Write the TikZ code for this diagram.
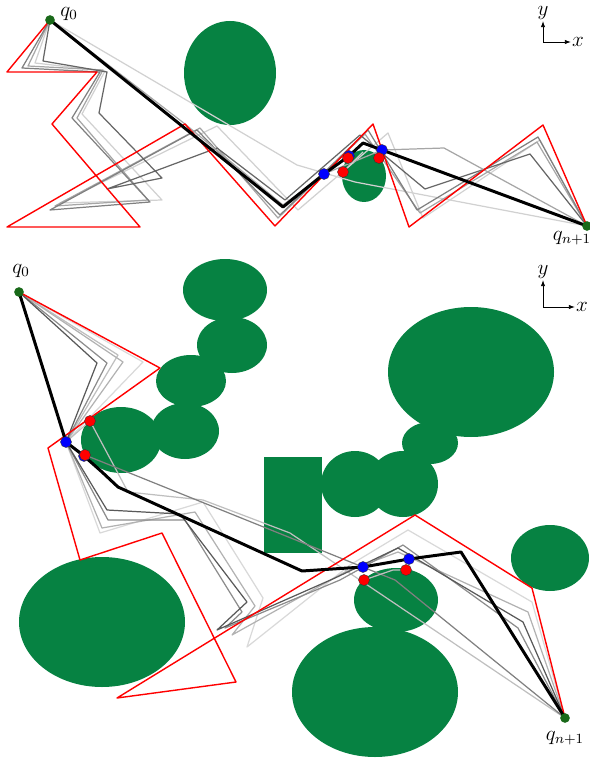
\documentclass[tikz,border=0pt]{standalone}
\usepackage{amsmath,amssymb}
\usepackage{tikz}
\usetikzlibrary{arrows.meta}
\definecolor{obst}{RGB}{6,130,66}
\definecolor{qgreen}{RGB}{25,105,25}

\begin{document}
\begin{tikzpicture}[x=0.02cm,y=-0.02cm,
  obstacle/.style={fill=obst},
  trial/.style={line width=0.7pt,line join=round},
  init/.style={line width=0.8pt,red,line join=round},
  best/.style={line width=1.7pt,black,line join=round},
  inpt/.style={circle,fill=blue,draw=black!80,line width=0.2pt,inner sep=0pt,minimum size=6.3pt},
  outpt/.style={circle,fill=red,draw=black!80,line width=0.2pt,inner sep=0pt,minimum size=6.3pt},
  endpt/.style={circle,fill=qgreen,inner sep=0pt,minimum size=5.5pt},
  lab/.style={font=\large},
  axis/.style={-{Latex[length=3.5pt,width=2.5pt]},line width=0.5pt}]
\useasboundingbox (0,0) rectangle (589,760);

% upper plot
\fill[obstacle] (230,73) ellipse [x radius=46,y radius=52];
\fill[obstacle] (364,176) ellipse [x radius=22,y radius=26];
\coordinate (s1) at (50,20); \coordinate (g1) at (587,226);
\coordinate (tb1) at (324,174); \coordinate (tb2) at (349,156); \coordinate (tb3) at (382,150);
\coordinate (tr1) at (343,172); \coordinate (tr2) at (348,158); \coordinate (tr3) at (379,158);
\draw[trial,black!18] (s1)--(297,165)--(355,182)--(g1);
\draw[trial,black!18] (s1)--(35,63)--(105,71)--(82,114)--(162,200)--(60,203)--(217,126)--(298,210)--(388,133)--(423,218)--(540,140)--(g1);
\draw[trial,black!35] (s1)--(28,66)--(103,70)--(77,118)--(148,200)--(55,206)--(200,128)--(278,218)--(365,134)--(420,213)--(537,142)--(g1);
\draw[trial,black!50] (s1)--(22,68)--(100,72)--(72,118)--(150,202)--(50,210)--(197,130)--(280,215)--(368,130)--(417,210)--(538,137)--(g1);
\draw[trial,black!60] (s1)--(43,61)--(107,72)--(99,113)--(162,178)--(107,189)--(217,148)--(285,200)--(360,135)--(425,189)--(530,154)--(g1);
\draw[trial,black!35] (s1)--(185,124)--(283,205)--(tb1)--(tb3)--(444,148)--(g1);
\draw[trial,black!20] (tr1)--(363,152);
\draw[init] (s1)--(7,72)--(97,72)--(52,124)--(140,227)--(7,227)--(185,124)--(275,226)--(373,124)--(409,227)--(543,125)--(g1);
\draw[best] (s1)--(283,207)--(tb1)--(tb2)--(363,143)--(tb3)--(g1);
\foreach \p in {tb1,tb2,tb3} \node[inpt] at (\p) {};
\foreach \p in {tr1,tr2,tr3} \node[outpt] at (\p) {};
\node[endpt] (q1) at (s1) {}; \node[endpt] (e1) at (g1) {};
\node[lab] (q1lab) at (69,14) {$q_0$};
\node[lab] (e1lab) at (572,238) {$q_{n+1}$};
\coordinate (o1) at (543,42);
\draw[axis] (o1)--(543,21) node[lab,above=-3pt] (y1) {$y$};
\draw[axis] (o1)--(571,42) node[lab,right=-3pt] (x1) {$x$};

% lower plot
\fill[obstacle] (225,290) ellipse [x radius=42,y radius=31];
\fill[obstacle] (232,345) ellipse [x radius=35,y radius=28];
\fill[obstacle] (191,381) ellipse [x radius=35,y radius=26];
\fill[obstacle] (185,431) ellipse [x radius=34,y radius=28];
\fill[obstacle] (121,440) ellipse [x radius=40,y radius=33];
\fill[obstacle] (264,457) rectangle (322,553);
\fill[obstacle] (355,484) ellipse [x radius=34,y radius=33];
\fill[obstacle] (403,484) ellipse [x radius=35,y radius=33];
\fill[obstacle] (430,443) ellipse [x radius=28,y radius=21];
\fill[obstacle] (471,372) ellipse [x radius=83,y radius=65];
\fill[obstacle] (550,558) ellipse [x radius=39,y radius=33];
\fill[obstacle] (396,600) ellipse [x radius=42,y radius=32];
\fill[obstacle] (375,692) ellipse [x radius=83,y radius=65];
\fill[obstacle] (102,622) ellipse [x radius=83,y radius=65];
\coordinate (s2) at (19,292); \coordinate (g2) at (565,718);
\coordinate (bb1) at (66,442); \coordinate (bb2) at (84,456); \coordinate (bb3) at (363,567); \coordinate (bb4) at (409,559);
\coordinate (br1) at (90,421); \coordinate (br2) at (85,455); \coordinate (br3) at (364,580); \coordinate (br4) at (406,570);
\draw[trial,black!15] (s2)--(143,362)--(bb1)--(100,533)--(203,502)--(263,598)--(247,647)--(350,565)--(408,530)--(532,602)--(g2);
\draw[trial,black!25] (s2)--(118,355)--(bb1)--(br1)--(128,492)--(203,500)--(290,533)--(g2);
\draw[trial,black!30] (s2)--(123,362)--(bb1)--(102,528)--(195,512)--(255,606)--(232,635)--(345,572)--(398,552)--(528,612)--(g2);
\draw[trial,black!45] (s2)--(107,363)--(bb1)--(108,520)--(185,520)--(242,612)--(225,628)--(340,580)--(403,545)--(518,628)--(g2);
\draw[trial,black!65] (s2)--(97,363)--(bb1)--(107,510)--(180,514)--(247,602)--(217,630)--(335,578)--(398,548)--(523,622)--(g2);
\draw[trial,black!50] (s2)--(bb1)--(br2)--(395,580)--(g2);
\draw[trial,black!25] (br3)--(393,570)--(br4);
\draw[init] (s2)--(160,368)--(48,448)--(80,560)--(162,533)--(236,682)--(117,698)--(415,515)--(532,588)--(g2);
\draw[best] (s2)--(bb1)--(bb2)--(102,472)--(118,487)--(302,571)--(bb3)--(bb4)--(461,552)--(g2);
\foreach \p in {bb1,bb2,bb3,bb4} \node[inpt] at (\p) {};
\foreach \p in {br1,br2,br3,br4} \node[outpt] at (\p) {};
\node[endpt] (q2) at (s2) {}; \node[endpt] (e2) at (g2) {};
\node[lab] (q2lab) at (21,271) {$q_0$};
\node[lab] (e2lab) at (565,738) {$q_{n+1}$};
\coordinate (o2) at (543,307);
\draw[axis] (o2)--(543,280) node[lab,above=-3pt] (y2) {$y$};
\draw[axis] (o2)--(575,307) node[lab,right=-3pt] (x2) {$x$};
\end{tikzpicture}
\end{document}
